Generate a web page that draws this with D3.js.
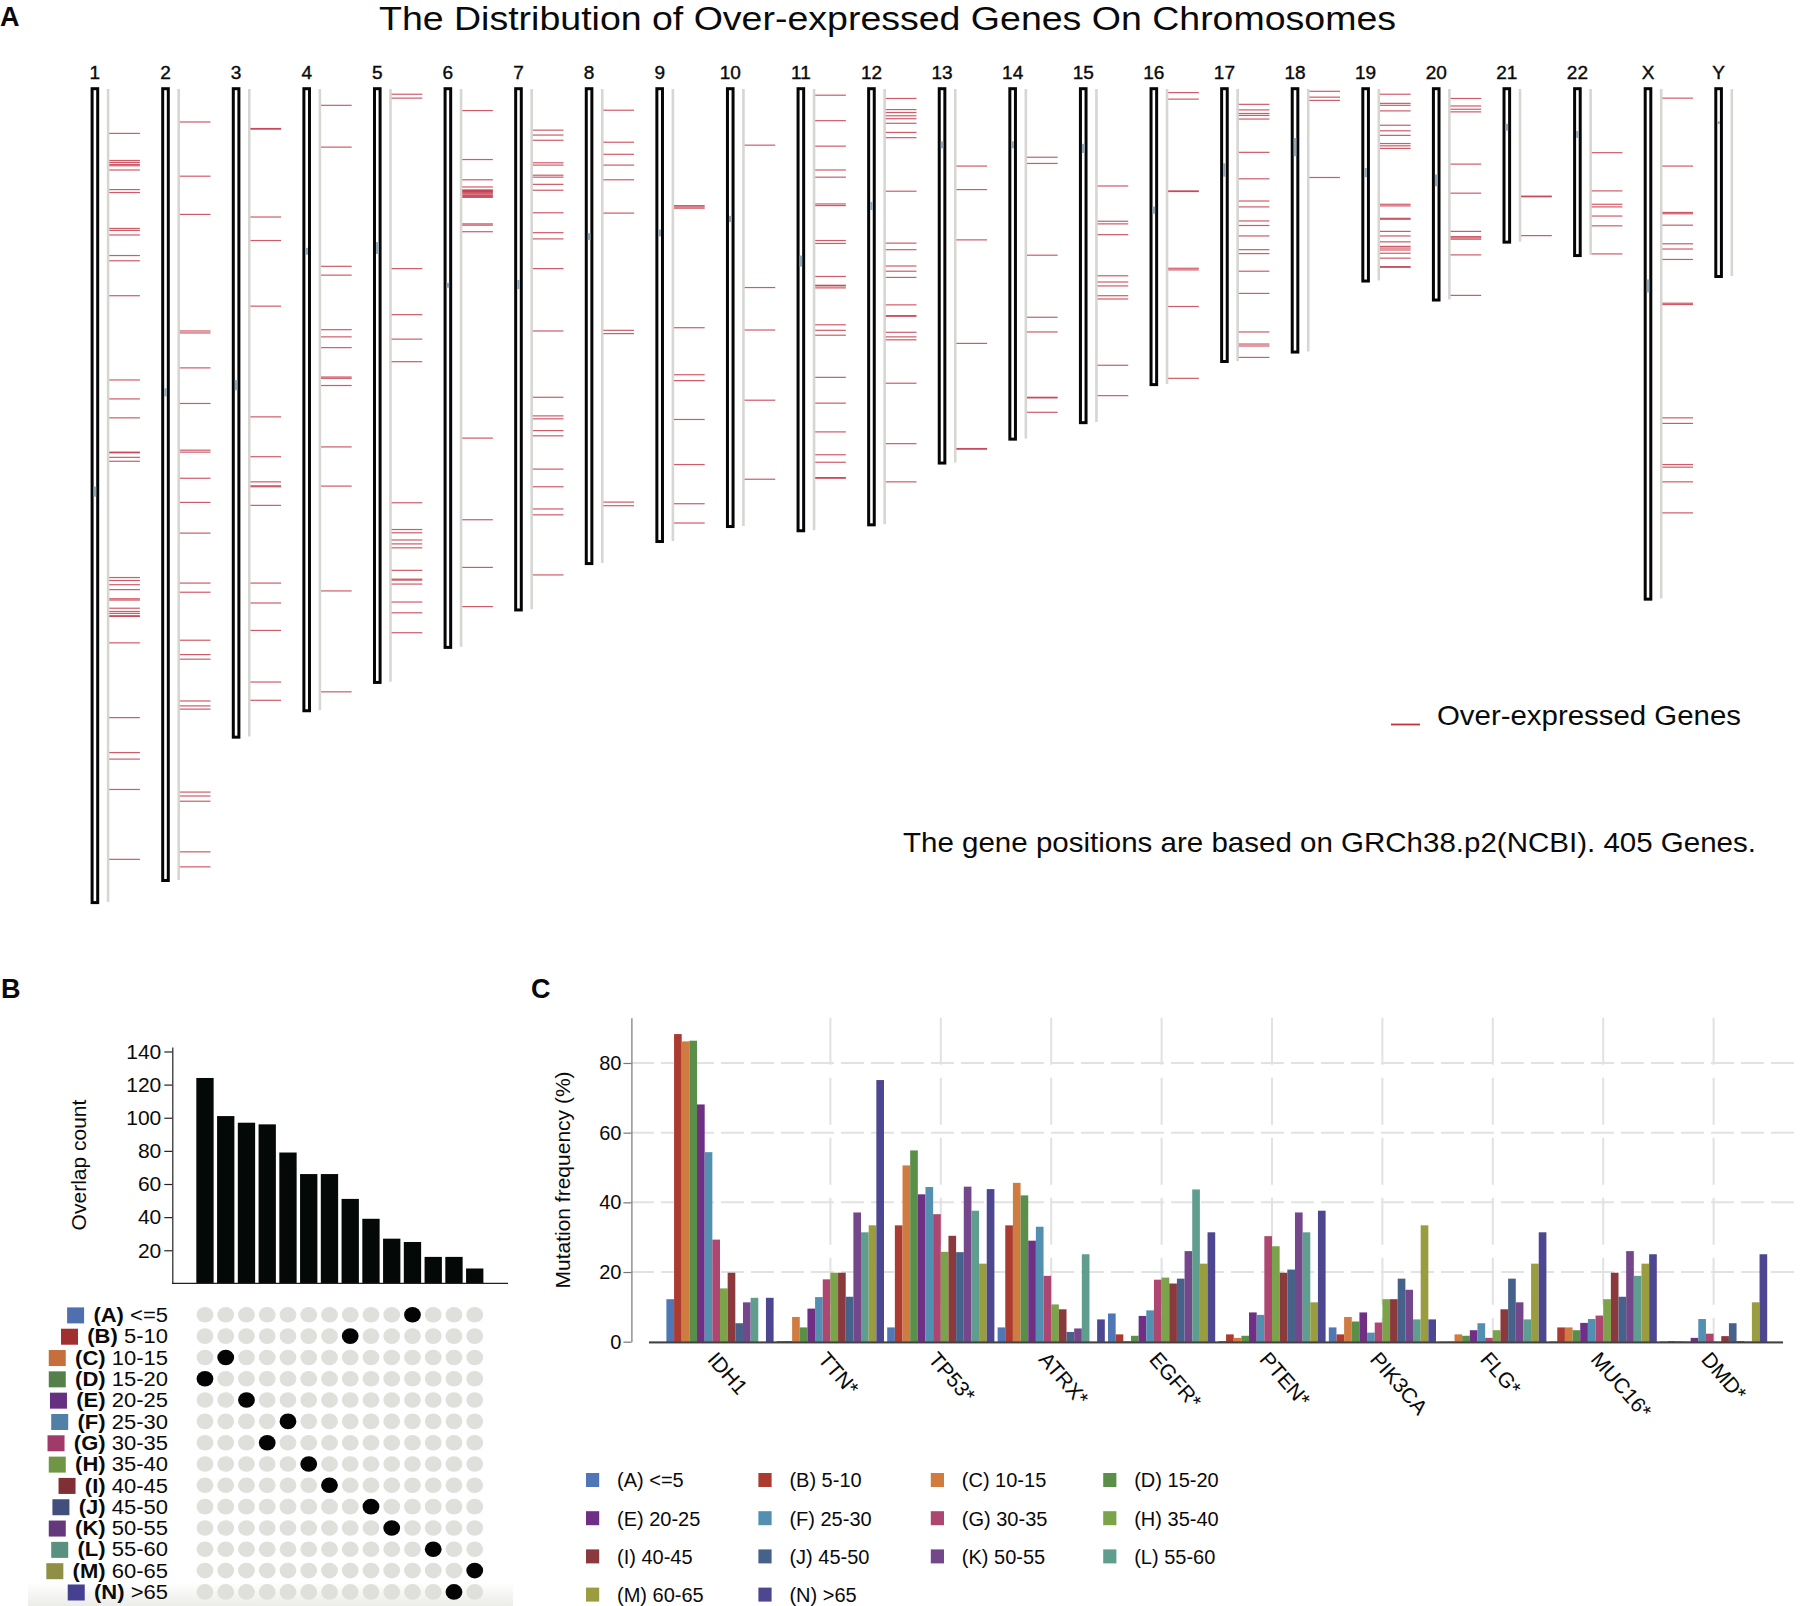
<!DOCTYPE html>
<html><head><meta charset="utf-8">
<script src="https://cdn.jsdelivr.net/npm/d3@7"></script>
<style>html,body{margin:0;padding:0;background:#fff}svg{display:block}text{font-family:"Liberation Sans",Arial,sans-serif;fill:#0a0a0a}</style>
</head><body><svg id="c" width="1800" height="1606"></svg>
<script>
// ---- Panel A data: chromosome names, lengths (Mb), centromeres (Mb), gene positions (Mb)
const chromNames=["1","2","3","4","5","6","7","8","9","10","11","12","13","14","15","16","17","18","19","20","21","22","X","Y"];
const chromLengths=[248.96,242.19,198.3,190.21,181.54,170.81,159.35,145.14,138.39,133.8,135.09,133.28,114.36,107.04,101.99,90.34,83.26,80.37,58.62,64.44,46.71,50.82,156.04,57.23];
const centromereMid=[123.3,92.9,90.7,49.7,48.7,60.1,59.9,45.2,44.1,39.8,52.7,35.8,17.1,17.1,18.2,37.1,24.8,17.8,25.6,28,11.7,13.9,60.3,10.3];
const centromereSpan=[3.1,2.5,3.1,2.1,3.6,1.5,2.8,2.1,2.1,1.9,3.4,2.5,2.1,2.1,2.8,2.2,4.1,5.6,2.8,3.6,2.1,2.1,4,0.8];
const genes1=[13.6,21.9,22.5,23.1,23.5,24.8,30.8,31.7,42.7,43.3,44.7,51,52.6,63.3,89.1,94.9,100.7,111.2,111.4,112.8,114,149.6,150.5,151.8,153.3,156.1,156.5,159,160,160.6,161.3,161.5,169.6,192.5,203.2,205.2,214.5,235.9];
const genes2=[10.1,26.7,38.4,74.1,74.7,85.4,96.3,110.6,111.2,119.2,126.6,136,151.3,154.1,168.8,173.2,174.6,187.4,188.9,189.9,215.3,216.5,218.1,233.6,238.2];
const genes3=[12.1,12.3,39.2,46.4,66.5,100.4,112.6,120.3,121.5,121.8,127.5,151.3,157.4,165.8,181.6,187.2];
const genes4=[5,17.8,54.3,57,73.7,75.9,79.2,88.2,88.6,90.8,109.6,121.6,153.7,184.6];
const genes5=[1.6,2.8,55,69.1,76.6,83.5,126.7,134.9,135.9,138.1,139.3,140.5,147.4,150.1,150.4,151.6,157.1,160.4,166.5];
const genes6=[6.6,21.6,27.8,30,30.9,31.1,31.4,31.6,31.9,32.2,32.6,32.9,33.2,41.3,41.7,43.7,106.9,131.9,146.5,158.5];
const genes7=[12.6,14.1,15.7,22.6,23.3,26.4,27,29.2,31,37.9,44,45.9,55,74.1,94.4,100.1,101,104.6,106.2,116.4,121.8,128.6,130.4,148.8];
const genes8=[6.5,16.3,20,23.3,27.8,38,73.9,74.9,126.5,127.6];
const genes9=[35.7,36.1,36.5,73.1,87.5,89.3,101.2,115,127,132.9];
const genes10=[17.2,60.8,73.8,95.3,119.5];
const genes11=[1.9,9.7,17.5,24.8,27,35.2,35.7,46.4,47.3,57.4,60.1,60.3,60.9,72.2,73.9,75.4,88.3,96.2,105,112,114.3,119,119.2];
const genes12=[2.9,6.3,7.2,8.2,9.1,10.5,13.3,14.9,31.3,47.2,49.2,54.2,55.8,57.7,66.1,69.4,69.6,74.5,75.9,76.8,90.1,108.6,120.3];
const genes13=[23.6,30.8,46.2,77.9,110.1,110.3];
const genes14=[20.9,22.8,50.9,69.9,74.4,94.4,94.6,99];
const genes15=[29.7,40.5,41.3,44.6,57.2,59.1,60.3,63.3,64.3,84.6,93.9];
const genes16=[1.1,3.1,31.2,31.4,54.9,55.4,66.6,88.6];
const genes17=[4.7,6.4,7.5,8.1,9.2,19.4,27.5,34.3,36.1,40.4,41.8,45,49.2,50.4,55.8,62.6,74.4,78.1,78.7,82.2];
const genes18=[0.7,2.5,3.5,27.1];
const genes19=[1.6,4.4,5,6.7,11.1,12.8,14.2,16.7,17.4,18.2,35.3,35.8,39.6,39.9,43.6,45,46.8,48.2,48.7,49.3,50.3,51.8,54.4,54.6];
const genes20=[2.9,5.2,6.2,7,23,31.9,43.6,45.2,45.6,46,50.8,63.2];
const genes21=[32.8,33,44.9];
const genes22=[19.5,31.2,35.3,36.1,38.9,41.9,50.5];
const genesX=[2.8,23.6,37.8,38.2,41.7,47.4,49,52.2,65.6,66,100.7,102.4,115,115.8,120.3,129.8];
const genesY=[];
const allGenes=[genes1,genes2,genes3,genes4,genes5,genes6,genes7,genes8,genes9,genes10,genes11,genes12,genes13,genes14,genes15,genes16,genes17,genes18,genes19,genes20,genes21,genes22,genesX,genesY];

// ---- Panel B data
const groupLabels=["A","B","C","D","E","F","G","H","I","J","K","L","M","N"];
const groupRanges=["<=5","5-10","10-15","15-20","20-25","25-30","30-35","35-40","40-45","45-50","50-55","55-60","60-65",">65"];
const overlapCounts=[124,101,97,96,79,66,66,51,39,27,25,16,16,9];
const overlapColumnOfGroup=[10,7,1,0,2,4,3,5,6,8,9,11,13,12];
const swatchColors=["#4f6fae","#a03030","#c5703c","#55804a","#65307f","#5080a5","#a03a68","#6f9545","#7f3035","#404f7c","#64387a","#5a907f","#8f8f45","#45408f"];
const overlapTicks=[20,40,60,80,100,120,140];

// ---- Panel C data
const mutGenes=["IDH1","TTN*","TP53*","ATRX*","EGFR*","PTEN*","PIK3CA","FLG*","MUC16*","DMD*"];
const barColors=["#4f77b5","#ab3b30","#d07b3f","#5a8f4a","#6e2f84","#528fb0","#ad4670","#7ba34a","#8a3a3c","#46628a","#74478a","#5f9e8e","#999c3f","#4d4690"];
const mutIDH1=[12.2,88.3,86.2,86.4,68.1,54.4,29.3,15.3,19.8,5.3,11.3,12.6,0,12.6];
const mutTTN=[0.2,0.2,7.1,4.1,9.5,12.8,17.9,19.8,19.8,12.9,37.1,31.4,33.4,75.1];
const mutTP53=[4.1,33.4,50.6,54.9,42.3,44.4,36.6,25.8,30.4,25.7,44.5,37.6,22.4,43.8];
const mutATRX=[4.1,33.4,45.6,42,29,33,18.9,10.7,9.3,2.8,3.8,25.1,0,6.4];
const mutEGFR=[8.1,2.1,0.2,1.7,7.4,9,17.8,18.4,16.7,18.1,26,43.7,22.4,31.4];
const mutPTEN=[0.2,2.1,1.1,1.7,8.4,7.7,30.3,27.4,19.8,20.7,37.1,31.4,11.3,37.6];
const mutPIK3CA=[4.1,2.1,7.1,5.8,8.4,2.6,5.5,12.2,12.2,18.1,14.9,6.4,33.4,6.4];
const mutFLG=[0.1,0.1,2.1,1.7,3.3,5.3,1.1,3.3,9.3,18.1,11.3,6.4,22.4,31.4];
const mutMUC16=[0.1,4.1,4.1,3.3,5.4,6.5,7.5,12.2,19.8,12.9,26,18.9,22.4,25.1];
const mutDMD=[0.1,0.2,0.2,0.1,1.1,6.5,2.3,0.1,1.6,5.3,0.2,0.1,11.3,25.1];
const mutAll=[mutIDH1,mutTTN,mutTP53,mutATRX,mutEGFR,mutPTEN,mutPIK3CA,mutFLG,mutMUC16,mutDMD];
const mutTicks=[0,20,40,60,80];

const svg=d3.select("#c");
const txt=(x,y,s,size,opt={})=>{const t=svg.append("text").attr("x",x).attr("y",y).attr("font-size",size).text(s);
  Object.entries(opt).forEach(([k,v])=>t.attr(k,v));return t;};

// panel letters and titles
txt(0,25.5,"A",27,{"font-weight":"bold"});
txt(1,998,"B",27,{"font-weight":"bold"});
txt(531,998,"C",27,{"font-weight":"bold"});
txt(379,30,"The Distribution of Over-expressed Genes On Chromosomes",33,{"textLength":1017,"lengthAdjust":"spacingAndGlyphs"});

// ---- Panel A
const cx=d3.scalePoint().domain(chromNames).range([94.9,1718.6]);
const cy=d3.scaleLinear().domain([0,248.96]).range([89,902]);
const gA=svg.append("g");
chromNames.forEach((name,i)=>{
  const x=cx(name),len=chromLengths[i];
  const g=gA.append("g");
  g.append("line").attr("x1",x+13.2).attr("x2",x+13.2).attr("y1",cy(0)).attr("y2",cy(len)).attr("stroke","#d6d6d2").attr("stroke-width",2.6);
  g.append("rect").attr("x",x-2.8).attr("width",5.6).attr("y",cy(0)-.3).attr("height",cy(len)-cy(0)+.9).attr("fill","#fff").attr("stroke","#050505").attr("stroke-width",3);
  g.append("rect").attr("x",x-1.3).attr("width",2.6).attr("y",cy(centromereMid[i]-centromereSpan[i]/2)).attr("height",cy(centromereSpan[i])-cy(0)).attr("fill","#93aabb");
  g.selectAll("line.g").data(allGenes[i]).join("line").attr("class","g")
    .attr("x1",x+14.4).attr("x2",x+45).attr("y1",d=>cy(d)).attr("y2",d=>cy(d))
    .attr("stroke","#bf2436").attr("stroke-opacity",.75).attr("stroke-width",1.2);
  txt(x,79.3,name,19,{"text-anchor":"middle","stroke":"#0a0a0a","stroke-width":.4});
});
gA.append("line").attr("x1",1391).attr("x2",1420).attr("y1",724.5).attr("y2",724.5).attr("stroke","#c8303c").attr("stroke-width",1.8);
txt(1437,724.5,"Over-expressed Genes",28,{"textLength":304,"lengthAdjust":"spacingAndGlyphs"});
txt(903,851.5,"The gene positions are based on GRCh38.p2(NCBI). 405 Genes.",28,{"textLength":853,"lengthAdjust":"spacingAndGlyphs"});

// ---- Panel B
const defs=svg.append("defs");
const grad=defs.append("linearGradient").attr("id","fade").attr("x1",0).attr("x2",0).attr("y1",0).attr("y2",1);
grad.append("stop").attr("offset",0).attr("stop-color","#ecece8").attr("stop-opacity",0);
grad.append("stop").attr("offset",1).attr("stop-color","#ecece8").attr("stop-opacity",1);
svg.append("rect").attr("x",28).attr("y",1582).attr("width",485).attr("height",24).attr("fill","url(#fade)");

const bx=d3.scaleBand().domain(d3.range(overlapCounts.length)).range([194.6,485.1]).paddingInner(.166).paddingOuter(.083);
const by=d3.scaleLinear().domain([0,142.7]).range([1283.4,1047]);
const rowY=d3.scalePoint().domain(groupLabels).range([1314.8,1591.9]);
svg.append("g").selectAll("rect").data(overlapCounts).join("rect")
  .attr("x",(d,i)=>bx(i)).attr("width",bx.bandwidth()).attr("y",d=>by(d)).attr("height",d=>by(0)-by(d)).attr("fill","#040807");
const axB=svg.append("g").attr("transform","translate(172.3,0)").call(d3.axisLeft(by).tickValues(overlapTicks).tickSize(8).tickPadding(3).tickSizeOuter(0));
axB.selectAll("text").attr("font-size",21).attr("font-family",'"Liberation Sans"').attr("fill","#0a0a0a");
axB.selectAll("path,line").attr("stroke","#222").attr("stroke-width",1.2);
svg.append("line").attr("x1",172).attr("x2",508).attr("y1",by(0)).attr("y2",by(0)).attr("stroke","#222").attr("stroke-width",1.4);
txt(0,0,"Overlap count",21,{"text-anchor":"middle","transform":"translate(86,1165) rotate(-90)"});

const gDots=svg.append("g");
groupLabels.forEach((g,r)=>{
  const y=rowY(g);
  gDots.selectAll("e"+g).data(d3.range(overlapCounts.length)).join("ellipse")
    .attr("cx",c=>bx(c)+bx.bandwidth()/2).attr("cy",y).attr("rx",8.4).attr("ry",7.8)
    .attr("fill",c=>c===overlapColumnOfGroup[r]?"#040404":"#dfdfdb");
  const t=svg.append("text").attr("x",168).attr("y",y+7.2).attr("text-anchor","end").attr("font-size",20);
  t.append("tspan").attr("font-weight","bold").text("("+g+")");
  t.append("tspan").text(" "+groupRanges[r]);
  const w=t.node().getComputedTextLength()*1.1;
  t.attr("textLength",w).attr("lengthAdjust","spacingAndGlyphs");
  svg.append("rect").attr("x",168-w-9.3-17).attr("y",y-7.4).attr("width",17).attr("height",16).attr("fill",swatchColors[r]);
});

// ---- Panel C
const mx=d3.scaleBand().domain(mutGenes).range([664.8,1768.8]);
const mx1=d3.scaleBand().domain(groupLabels).range([1.6,108.8]);
const my=d3.scaleLinear().domain([0,93]).range([1341.7,1017.7]);
const gridG=svg.append("g");
mutTicks.filter(t=>t>0).forEach(t=>gridG.append("line").attr("x1",631).attr("x2",1800).attr("y1",my(t)).attr("y2",my(t)));
mutGenes.slice(1).forEach(g=>{const x=mx(g)+mx.bandwidth()/2;gridG.append("line").attr("x1",x).attr("x2",x).attr("y1",my(93)).attr("y2",my(0)).attr("class","v");});
gridG.selectAll("line").attr("stroke","#e2e2e2").attr("stroke-width",2).attr("stroke-dasharray",function(){return this.getAttribute("class")==="v"?"47 13":"23 7";});
mutGenes.forEach((g,gi)=>{
  svg.append("g").attr("transform",`translate(${mx(g)},0)`).selectAll("rect").data(mutAll[gi]).join("rect")
    .attr("x",(d,i)=>mx1(groupLabels[i])).attr("width",mx1.bandwidth()).attr("y",d=>my(d)).attr("height",d=>my(0)-my(d)).attr("fill",(d,i)=>barColors[i]);
  txt(0,0,g,21,{"transform":`translate(${mx(g)+mx.bandwidth()/2-2},1350) rotate(49)`,"dominant-baseline":"hanging"});
});
const axC=svg.append("g").attr("transform","translate(631.4,0)").call(d3.axisLeft(my).tickValues(mutTicks).tickFormat(d3.format("d")).tickSize(8).tickPadding(2).tickSizeOuter(0));
axC.selectAll("text").attr("font-size",20).attr("font-family",'"Liberation Sans"').attr("fill","#0a0a0a");
axC.selectAll("path,line").attr("stroke","#777").attr("stroke-width",1.2);
svg.append("line").attr("x1",649).attr("x2",1783).attr("y1",my(0)+1.6).attr("y2",my(0)+1.6).attr("stroke","#aaa").attr("stroke-width",1.4);
svg.append("line").attr("x1",649).attr("x2",1783).attr("y1",my(0)+.4).attr("y2",my(0)+.4).attr("stroke","#111").attr("stroke-width",1.3);
txt(0,0,"Mutation frequency (%)",21,{"text-anchor":"middle","transform":"translate(570,1180) rotate(-90)"});

// legend C
const lx=d3.scaleBand().domain(d3.range(4)).range([586,586+172.4*4]);
const ly=d3.scaleBand().domain(d3.range(4)).range([1461,1461+38.2*4]);
groupLabels.forEach((g,i)=>{
  const c=i%4,r=Math.floor(i/4),x=lx(c),y=ly(r)+19;
  svg.append("rect").attr("x",x).attr("y",y-7).attr("width",13.2).attr("height",14).attr("fill",barColors[i]);
  txt(x+31,y+7.4,"("+g+") "+groupRanges[i],20);
});
</script></body></html>
